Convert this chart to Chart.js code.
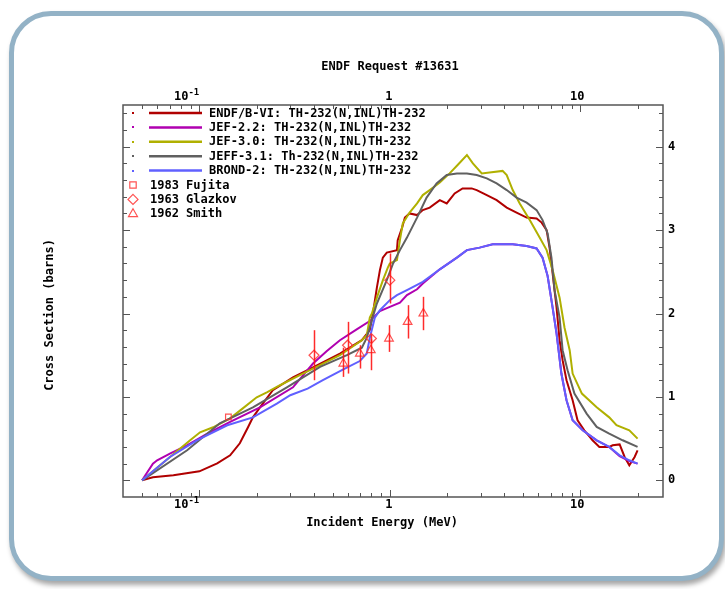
<!DOCTYPE html>
<html><head><meta charset="utf-8">
<script src="https://cdn.jsdelivr.net/npm/chart.js@4/dist/chart.umd.min.js"></script>
<style>
html,body{margin:0;padding:0;background:#fff;width:725px;height:589px;overflow:hidden;}
#frame{position:absolute;left:9px;top:11px;width:705px;height:560px;border:5px solid #93b2c6;border-radius:42px;box-shadow:2px 4px 5px rgba(0,0,0,0.35);background:#fff;}
canvas{position:absolute;left:0;top:0;}
</style></head><body>
<div id="frame"></div>
<canvas id="c" width="725" height="589"></canvas>
<script>
// ---------- data (energy in MeV, cross section in barns) ----------
const titleText = "ENDF Request #13631";
const xAxisTitle = "Incident Energy (MeV)";
const yAxisTitle = "Cross Section (barns)";
const xMajorTicks = [0.1, 1, 10];
const xMinorTicks = [0.05,0.06,0.07,0.08,0.09,0.2,0.3,0.4,0.5,0.6,0.7,0.8,0.9,2,3,4,5,6,7,8,9,20];
const yMajorTicks = [0, 1, 2, 3, 4];
const yMinorStep = 0.2;

const endfE  = [0.05,0.057,0.073,0.10,0.124,0.145,0.163,0.18,0.191,0.208,0.243,0.31,0.395,0.547,0.713,0.785,0.815,0.855,0.887,0.919,0.964,1.09,1.10,1.16,1.20,1.27,1.39,1.49,1.62,1.83,1.99,2.19,2.41,2.69,2.86,3.23,3.64,4.11,4.63,5.23,5.90,6.27,6.66,6.90,7.16,7.51,7.79,8.08,8.47,9.12,9.68,10.5,11.6,12.6,14.2,14.8,16.1,17.1,18.1,19.3,20];
const endfXS = [0,0.036,0.06,0.108,0.204,0.30,0.444,0.636,0.755,0.875,1.08,1.235,1.355,1.52,1.68,1.80,2.00,2.31,2.52,2.67,2.73,2.76,2.88,3.03,3.15,3.20,3.18,3.24,3.27,3.36,3.32,3.44,3.50,3.50,3.48,3.42,3.36,3.27,3.21,3.15,3.14,3.09,3.00,2.79,2.48,2.07,1.68,1.44,1.20,0.96,0.72,0.60,0.48,0.40,0.40,0.42,0.43,0.28,0.18,0.28,0.36];

const jef22E  = [0.05,0.057,0.06,0.07,0.086,0.11,0.145,0.208,0.31,0.395,0.467,0.547,0.67,0.785,0.887,1.0,1.13,1.23,1.39,1.49,1.83,2.25,2.54,2.96,3.47,4.42,5.23,5.9,6.34,6.74,7.16,7.51,7.96,8.47,9.12,10.3,12.2,14.2,16.1,18.1,20];
const jef22XS = [0,0.20,0.24,0.32,0.42,0.56,0.70,0.875,1.115,1.40,1.55,1.68,1.81,1.91,2.03,2.08,2.13,2.22,2.29,2.36,2.53,2.67,2.76,2.79,2.83,2.83,2.81,2.78,2.67,2.45,2.07,1.76,1.28,0.96,0.72,0.60,0.48,0.40,0.29,0.23,0.20];

const jef30E  = [0.05,0.0894,0.1008,0.118,0.145,0.169,0.20,0.226,0.265,0.337,0.43,0.547,0.713,0.757,0.785,0.805,0.855,0.92,0.976,1.0,1.09,1.13,1.17,1.27,1.39,1.49,1.62,1.83,2.06,2.27,2.54,2.73,3.04,3.34,3.91,4.11,4.42,4.81,5.43,6.12,6.66,7.16,7.79,8.27,8.8,9.12,10.2,12.2,14.2,15.5,18.1,20];
const jef30XS = [0,0.48,0.576,0.636,0.743,0.863,0.995,1.055,1.14,1.26,1.38,1.50,1.68,1.74,1.95,2.0,2.19,2.40,2.55,2.60,2.64,2.88,3.08,3.21,3.32,3.42,3.48,3.57,3.68,3.78,3.90,3.80,3.68,3.69,3.71,3.66,3.48,3.32,3.12,2.91,2.76,2.52,2.19,1.83,1.56,1.28,1.04,0.875,0.755,0.66,0.60,0.50];

const jeff31E  = [0.05,0.0862,0.128,0.191,0.288,0.43,0.595,0.713,0.757,0.805,0.855,0.964,1.04,1.13,1.23,1.39,1.56,1.76,1.99,2.25,2.54,2.86,3.23,3.64,4.11,4.63,5.23,5.9,6.34,6.74,7.06,7.33,7.79,8.08,8.58,9.32,10.8,12.2,14.2,16.7,20];
const jeff31XS = [0,0.36,0.684,0.875,1.115,1.36,1.50,1.59,1.71,1.92,2.12,2.40,2.60,2.76,2.91,3.15,3.39,3.56,3.66,3.68,3.68,3.66,3.62,3.56,3.48,3.39,3.33,3.24,3.12,2.96,2.67,2.28,1.95,1.56,1.32,1.04,0.80,0.64,0.56,0.48,0.40];

const brondE  = [0.05,0.07,0.097,0.14,0.191,0.255,0.30,0.37,0.445,0.57,0.696,0.757,0.785,0.834,0.887,1.0,1.09,1.23,1.49,1.83,2.25,2.54,2.96,3.47,4.42,5.23,5.9,6.34,6.74,7.16,7.51,7.96,8.47,9.12,10.3,12.2,14.2,16.1,18.1,20];
const brondXS = [0,0.28,0.48,0.66,0.755,0.92,1.02,1.10,1.20,1.33,1.43,1.52,1.71,1.95,2.04,2.16,2.22,2.28,2.38,2.53,2.67,2.76,2.79,2.83,2.83,2.81,2.78,2.67,2.45,2.07,1.76,1.28,0.96,0.72,0.60,0.48,0.40,0.30,0.24,0.20];

const fujitaE = [0.142];
const fujitaXS = [0.76];

const glazkovE  = [0.40, 0.60, 0.80, 1.00];
const glazkovXS = [1.50, 1.62, 1.70, 2.40];
const glazkovLo = [1.20, 1.28, 1.65, 2.12];
const glazkovHi = [1.80, 1.90, 1.75, 2.72];

const smithE  = [0.57, 0.696, 0.795, 0.99, 1.24, 1.50];
const smithXS = [1.40, 1.52, 1.56, 1.70, 1.90, 2.00];
const smithLo = [1.24, 1.34, 1.32, 1.54, 1.70, 1.80];
const smithHi = [1.59, 1.62, 1.69, 1.86, 2.10, 2.20];

const evalNames = ["ENDF/B-VI: TH-232(N,INL)TH-232","JEF-2.2: TH-232(N,INL)TH-232","JEF-3.0: TH-232(N,INL)TH-232","JEFF-3.1: Th-232(N,INL)TH-232","BROND-2: TH-232(N,INL)TH-232"];
const expNames = ["1983 Fujita","1963 Glazkov","1962 Smith"];

// ---------- styles ----------
const evalColors = ["#b00000","#b000b0","#b0b000","#606060","#6060ff"];
const markerColor = "rgba(255,50,50,0.85)";
const FONT = "bold 12px 'DejaVu Sans Mono', 'Liberation Mono', monospace";

const pts = (e, v) => e.map((x, i) => ({x: x, y: v[i]}));
const evalData = [pts(endfE,endfXS), pts(jef22E,jef22XS), pts(jef30E,jef30XS), pts(jeff31E,jeff31XS), pts(brondE,brondXS)];
const evalOrder = [5,4,3,2,1];

const datasets = evalData.map((d, i) => ({
  label: evalNames[i], data: d, showLine: true, borderColor: evalColors[i],
  borderWidth: 2, pointRadius: 0, tension: 0, order: evalOrder[i], fill: false
}));
const expStyles = ['rect','rectRot','triangle'];
const expData = [pts(fujitaE,fujitaXS), pts(glazkovE,glazkovXS), pts(smithE,smithXS)];
const expRadius = [4, 5, 5];
expData.forEach((d, i) => datasets.push({
  label: expNames[i], data: d, showLine: false, pointStyle: expStyles[i],
  pointRadius: expRadius[i], pointBorderColor: markerColor, pointBackgroundColor: 'rgba(0,0,0,0)',
  pointBorderWidth: 1.2, order: 0
}));

const errSets = [{e: glazkovE, lo: glazkovLo, hi: glazkovHi}, {e: smithE, lo: smithLo, hi: smithHi}];

function drawMarker(ctx, style, x, y, r) {
  ctx.beginPath();
  if (style === 'rect') { ctx.rect(x - r*0.8, y - r*0.8, r*1.6, r*1.6); }
  else if (style === 'rectRot') { ctx.moveTo(x, y - r); ctx.lineTo(x + r, y); ctx.lineTo(x, y + r); ctx.lineTo(x - r, y); ctx.closePath(); }
  else { ctx.moveTo(x, y - r); ctx.lineTo(x + r*0.9, y + r*0.55); ctx.lineTo(x - r*0.9, y + r*0.55); ctx.closePath(); }
  ctx.stroke();
}

const axesPlugin = {
  id: 'endfAxes',
  afterDatasetsDraw(chart) {
    const ctx = chart.ctx, xs = chart.scales.x, ys = chart.scales.y, a = chart.chartArea;
    ctx.save();
    // error bars
    ctx.strokeStyle = "rgba(255,20,20,0.9)"; ctx.lineWidth = 1.5;
    errSets.forEach(s => s.e.forEach((e, i) => {
      const px = Math.round(xs.getPixelForValue(e)) + 0.5;
      ctx.beginPath(); ctx.moveTo(px, ys.getPixelForValue(s.lo[i])); ctx.lineTo(px, ys.getPixelForValue(s.hi[i])); ctx.stroke();
    }));
    // frame
    ctx.strokeStyle = "#555"; ctx.lineWidth = 1.5;
    ctx.strokeRect(a.left, a.top, a.right - a.left, a.bottom - a.top);
    ctx.lineWidth = 1;
    // x ticks (bottom and top, inward)
    const xt = (v, len) => {
      const px = Math.round(xs.getPixelForValue(v)) + 0.5;
      ctx.beginPath(); ctx.moveTo(px, a.bottom); ctx.lineTo(px, a.bottom - len);
      ctx.moveTo(px, a.top); ctx.lineTo(px, a.top + len); ctx.stroke();
    };
    xMajorTicks.forEach(v => xt(v, 7));
    xMinorTicks.forEach(v => xt(v, 4));
    // y ticks (left and right, inward)
    const yt = (v, len) => {
      const py = Math.round(ys.getPixelForValue(v)) + 0.5;
      ctx.beginPath(); ctx.moveTo(a.left, py); ctx.lineTo(a.left + len, py);
      ctx.moveTo(a.right, py); ctx.lineTo(a.right - len, py); ctx.stroke();
    };
    for (let v = ys.min + yMinorStep; v < ys.max - 1e-6; v += yMinorStep) {
      const vv = Math.round(v * 10) / 10;
      if (yMajorTicks.indexOf(vv) < 0) yt(vv, 4);
    }
    yMajorTicks.forEach(v => yt(v, 7));

    // text
    ctx.fillStyle = "#000"; ctx.font = FONT; ctx.textBaseline = "middle";
    ctx.textAlign = "center";
    ctx.fillText(titleText, 390, 67);
    ctx.fillText(xAxisTitle, 382, 523);
    ctx.save(); ctx.translate(50, 315); ctx.rotate(-Math.PI / 2); ctx.fillText(yAxisTitle, 0, 0); ctx.restore();

    // x tick labels, top and bottom
    const xLabel = (v, y) => {
      const px = xs.getPixelForValue(v);
      if (v < 1) {
        ctx.font = FONT; ctx.textAlign = "right"; ctx.fillText("10", px - 11, y);
        ctx.font = "bold 9px 'DejaVu Sans Mono', monospace"; ctx.textAlign = "left"; ctx.fillText("-1", px - 11, y - 4);
        ctx.font = FONT;
      } else {
        ctx.textAlign = "center"; ctx.fillText(String(v), px - (v >= 10 ? 3 : 1), y);
      }
    };
    xMajorTicks.forEach(v => { xLabel(v, a.bottom + 8); xLabel(v, a.top - 8); });
    // right y labels
    ctx.textAlign = "left";
    yMajorTicks.forEach(v => ctx.fillText(String(v), a.right + 5, ys.getPixelForValue(v)));

    // legend
    const lx = a.left, ly0 = a.top + 8, dy = 14.4;
    evalNames.forEach((n, i) => {
      const y = ly0 + i * dy;
      ctx.fillStyle = evalColors[i]; ctx.fillRect(lx + 9, Math.round(y) - 1, 2, 2);
      ctx.strokeStyle = evalColors[i]; ctx.lineWidth = 2.5;
      ctx.beginPath(); ctx.moveTo(lx + 26, y); ctx.lineTo(lx + 79, y); ctx.stroke();
      ctx.fillStyle = "#000"; ctx.fillText(n, lx + 86, y + 0.5);
    });
    expNames.forEach((n, i) => {
      const y = ly0 + (i + 5) * dy;
      ctx.strokeStyle = markerColor; ctx.lineWidth = 1.2;
      drawMarker(ctx, expStyles[i], lx + 10, y, expRadius[i]);
      ctx.fillStyle = "#000"; ctx.fillText(n, lx + 27, y + 0.5);
    });
    ctx.restore();
  }
};

new Chart(document.getElementById('c').getContext('2d'), {
  type: 'scatter',
  data: { datasets: datasets },
  options: {
    responsive: false, animation: false, events: [],
    layout: { padding: { left: 123, right: 62, top: 105, bottom: 92 } },
    scales: {
      x: { type: 'logarithmic', min: 0.0397, max: 27.2, display: false },
      y: { type: 'linear', min: -0.2, max: 4.5, display: false }
    },
    plugins: { legend: { display: false }, tooltip: { enabled: false }, title: { display: false } }
  },
  plugins: [axesPlugin]
});
</script>
</body></html>
